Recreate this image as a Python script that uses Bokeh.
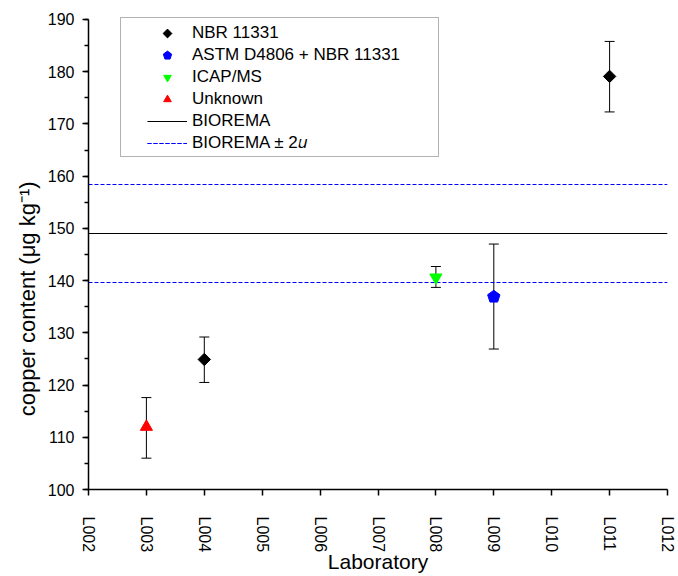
import math
from bokeh.plotting import figure
from bokeh.models import (ColumnDataSource, Range1d, FixedTicker, SingleIntervalTicker,
                          Whisker, TeeHead, Legend, LegendItem, BoxAnnotation)
from bokeh.embed import file_html
from bokeh.resources import INLINE

# ---- data ----
tick_labels = ["L002", "L003", "L004", "L005", "L006", "L007",
               "L008", "L009", "L010", "L011", "L012"]

nbr_labs = ["L004", "L011"]
nbr_vals = [124.9, 179.1]
nbr_low = [120.5, 172.3]
nbr_up = [129.2, 185.8]

astm_labs = ["L009"]
astm_vals = [136.9]
astm_low = [126.9]
astm_up = [147.0]

icap_labs = ["L008"]
icap_vals = [140.6]
icap_low = [138.7]
icap_up = [142.7]

unk_labs = ["L003"]
unk_vals = [112.0]
unk_low = [106.0]
unk_up = [117.6]

biorema = 149.0
biorema_2u = 9.4

y_min, y_max = 100, 190

FONT = "Liberation Sans"
DASH_BLUE = "#0000FF"


def src(labs, vals, low, up):
    return ColumnDataSource(dict(x=[tick_labels.index(l) for l in labs],
                                 y=vals, lower=low, upper=up))


W, H = 678, 576
TOP, BOTTOM = 16, 86
frame_h = H - TOP - BOTTOM
px_per_unit = (frame_h - 3) / (y_max - y_min)   # 3px of headroom above the top tick
y_end = y_max + 3 / px_per_unit

p = figure(width=W, height=H, output_backend="svg", toolbar_location=None,
           x_range=Range1d(0, len(tick_labels) - 1), y_range=Range1d(y_min, y_end),
           min_border_left=88, min_border_right=11, min_border_top=TOP,
           min_border_bottom=BOTTOM)
p.outline_line_color = None
p.xgrid.visible = False
p.ygrid.visible = False
p.background_fill_color = "white"

# axes
xa = p.xaxis[0]
xa.ticker = FixedTicker(ticks=list(range(len(tick_labels))), minor_ticks=[])
xa.major_label_overrides = {i: t for i, t in enumerate(tick_labels)}
xa.major_label_orientation = -math.pi / 2
xa.major_label_standoff = 21
xa.axis_label = "Laboratory"
xa.axis_label_standoff = -5

ya = p.yaxis[0]
ya.ticker = SingleIntervalTicker(interval=10, num_minor_ticks=2)
ya.bounds = (y_min, y_max)
# trailing no-break spaces shift the (centred) title downwards, as in the original
ya.axis_label = "copper content (μg kg⁻¹)" + "\u00a0" * 15
ya.major_label_standoff = 8
ya.axis_label_standoff = 5

for ax in (xa, ya):
    ax.axis_line_color = "black"
    ax.axis_line_width = 1.5
    ax.major_tick_line_color = "black"
    ax.major_tick_line_width = 1.5
    ax.minor_tick_line_color = "black"
    ax.minor_tick_line_width = 1.5
    ax.major_tick_in = 0
    ax.major_tick_out = 6
    ax.minor_tick_in = 0
    ax.minor_tick_out = 4
    ax.major_label_text_font = FONT
    ax.major_label_text_font_size = "16px"
    ax.major_label_text_color = "black"
    ax.axis_label_text_font = FONT
    ax.axis_label_text_font_style = "normal"
    ax.axis_label_text_color = "black"
xa.axis_label_text_font_size = "21px"
ya.axis_label_text_font_size = "22px"

# reference lines
r_bio = p.hspan(y=[biorema], line_color="black", line_width=1)
r_2u_hi = p.hspan(y=[biorema + biorema_2u], line_color=DASH_BLUE, line_width=1,
                  line_dash="4 2")
r_2u_lo = p.hspan(y=[biorema - biorema_2u], line_color=DASH_BLUE, line_width=1,
                  line_dash="4 2")

# error bars + markers
sources = [src(nbr_labs, nbr_vals, nbr_low, nbr_up),
           src(astm_labs, astm_vals, astm_low, astm_up),
           src(icap_labs, icap_vals, icap_low, icap_up),
           src(unk_labs, unk_vals, unk_low, unk_up)]
for s in sources:
    w = Whisker(base="x", upper="upper", lower="lower", source=s,
                line_color="black", line_width=1, level="underlay",
                upper_head=TeeHead(size=10, line_color="black", line_width=1),
                lower_head=TeeHead(size=10, line_color="black", line_width=1))
    p.add_layout(w)

r_nbr = p.ngon("x", "y", source=sources[0], radius=6.2, radius_units="screen",
               n=4, angle=0, fill_color="black", line_color="black")
r_astm = p.ngon("x", "y", source=sources[1], radius=6.5, radius_units="screen",
                n=5, angle=0, fill_color="#0000FF", line_color="#0000FF")
r_icap = p.ngon("x", "y", source=sources[2], radius=7, radius_units="screen",
                n=3, angle=math.pi, fill_color="#00FF00", line_color="#00FF00")
r_unk = p.ngon("x", "y", source=sources[3], radius=7, radius_units="screen",
               n=3, angle=0, fill_color="#FF0000", line_color="#FF0000")

legend = Legend(items=[
    LegendItem(label="NBR 11331", renderers=[r_nbr]),
    LegendItem(label="ASTM D4806 + NBR 11331", renderers=[r_astm]),
    LegendItem(label="ICAP/MS", renderers=[r_icap]),
    LegendItem(label="Unknown", renderers=[r_unk]),
    LegendItem(label="BIOREMA", renderers=[r_bio]),
    LegendItem(label="BIOREMA ± 2𝑢", renderers=[r_2u_hi, r_2u_lo]),
], location=(54, 330), padding=5, spacing=0, glyph_width=40, glyph_height=22,
    label_height=22, label_standoff=5, border_line_alpha=0,
    background_fill_alpha=0, label_text_font=FONT, label_text_font_size="17px",
    label_text_color="black")
p.add_layout(legend, "center")

box = BoxAnnotation(left=120, right=438, top=17, bottom=156,
                    left_units="canvas", right_units="canvas",
                    top_units="canvas", bottom_units="canvas",
                    fill_alpha=0, line_color="black", line_width=1)
p.add_layout(box)

open("out.html", "w").write(file_html(p, INLINE))
